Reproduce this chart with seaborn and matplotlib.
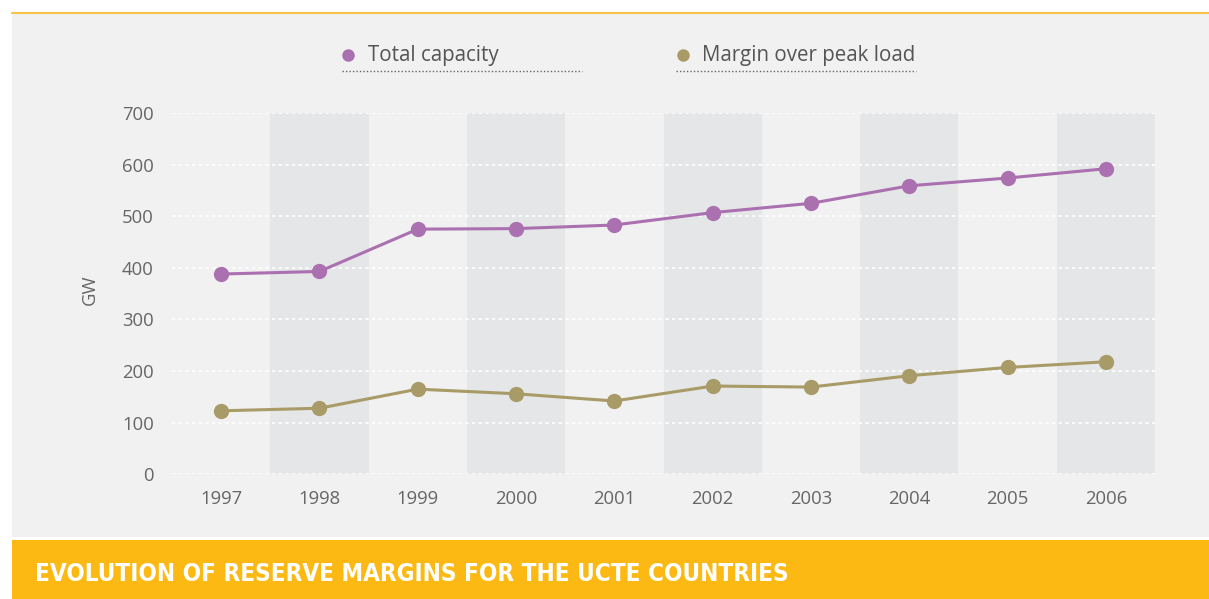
import matplotlib
matplotlib.use("Agg")
import matplotlib.pyplot as plt
import seaborn as sns
import pandas as pd
from matplotlib.patches import Rectangle
from matplotlib.lines import Line2D

# data (GW)
years = ["1997", "1998", "1999", "2000", "2001", "2002", "2003", "2004", "2005", "2006"]
total_capacity = [388, 393, 475, 476, 483, 507, 525, 559, 574, 592]
margin_peak = [123, 128, 165, 156, 142, 171, 169, 191, 207, 218]
series_names = ["Total capacity", "Margin over peak load"]
y_ticks = [0, 100, 200, 300, 400, 500, 600, 700]
title = "EVOLUTION OF RESERVE MARGINS FOR THE UCTE COUNTRIES"

purple = "#aa70b0"
olive = "#a89b67"

df = pd.DataFrame({
    "idx": list(range(len(years))) * 2,
    "GW": total_capacity + margin_peak,
    "series": [series_names[0]] * len(years) + [series_names[1]] * len(years),
})

sns.set_theme(style="white")
plt.rcParams['font.family'] = ['Open Sans', 'DejaVu Sans']

W, H = 1209, 599
fig = plt.figure(figsize=(W / 100, H / 100), dpi=100)
fig.patch.set_facecolor("white")

# grey panel, yellow top rule, yellow banner (behind the axes)
fig.patches.append(Rectangle((12 / W, 1 - 537 / H), 1 - 12 / W, (537 - 13) / H,
                             transform=fig.transFigure, facecolor="#f1f1f1", edgecolor="none", zorder=-5))
fig.lines.append(Line2D([12 / W, 1], [1 - 13 / H, 1 - 13 / H], transform=fig.transFigure,
                        color="#f6c447", linewidth=1.5, zorder=-4))
fig.patches.append(Rectangle((12 / W, 0), 1 - 12 / W, (599 - 540) / H,
                             transform=fig.transFigure, facecolor="#fdb913", edgecolor="none", zorder=-5))
fig.text(35 / W, 1 - 574 / H, title, color="white", fontsize=17.4, fontweight="bold",
         family="DejaVu Sans", fontstretch="condensed", va="center", ha="left")

ax = fig.add_axes([172 / W, 1 - 474.3 / H, 983 / W, 361.3 / H])
ax.set_facecolor("#f1f1f1")

# alternating column bands
for i in range(1, len(years), 2):
    ax.axvspan(i - 0.5, i + 0.5, color="#e5e6e7", zorder=0, linewidth=0)

sns.lineplot(data=df, x="idx", y="GW", hue="series", palette=[purple, olive],
             marker="o", markersize=11, markeredgewidth=0, linewidth=2.2,
             legend=False, ax=ax, zorder=3)

ax.set_xlim(-0.5, len(years) - 0.5)
ax.set_ylim(0, 700)
ax.set_xticks(range(len(years)))
ax.set_xticklabels(years)
ax.set_yticks(y_ticks)
ax.yaxis.grid(True, color="white", linestyle=(0, (2, 2)), linewidth=1.2)
ax.set_axisbelow(True)
for s in ax.spines.values():
    s.set_visible(False)
ax.tick_params(axis="both", length=0, labelsize=13.3, labelcolor="#666666")
ax.tick_params(axis="x", pad=11)
ax.tick_params(axis="y", pad=13)
ax.set_xlabel("")
ax.set_ylabel("GW", fontsize=13.3, color="#666666")
ax.yaxis.set_label_coords(-0.074, 0.51)

# legend drawn above the plot with dotted underlines
for (mx, tx, x0, x1), name, col in zip([(348, 368, 342, 582), (683, 702, 676, 916)],
                                        series_names, [purple, olive]):
    fig.lines.append(Line2D([mx / W], [1 - 55 / H], transform=fig.transFigure, marker="o",
                            markersize=9, color=col, markeredgewidth=0, linestyle="none"))
    fig.text(tx / W, 1 - 55 / H, name, fontsize=14.8, color="#555555", va="center", ha="left")
    fig.lines.append(Line2D([x0 / W, x1 / W], [1 - 71 / H, 1 - 71 / H], transform=fig.transFigure,
                            color="#666666", linestyle=(0, (1, 1.5)), linewidth=1))

fig.savefig("out.png", dpi=100)
